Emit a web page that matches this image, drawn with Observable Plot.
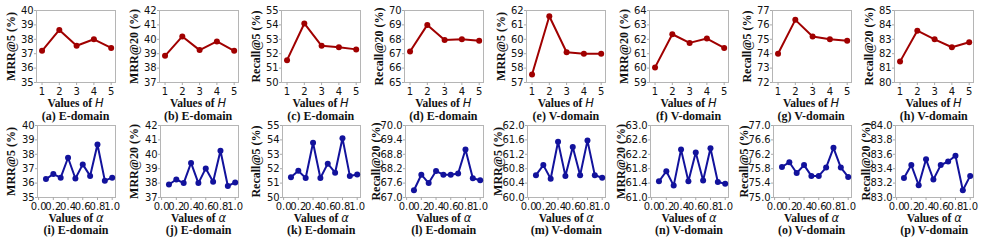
<!DOCTYPE html>
<html>
<head>
<meta charset="utf-8">
<script src="https://cdn.jsdelivr.net/npm/d3@7"></script>
<script src="https://cdn.jsdelivr.net/npm/@observablehq/plot@0.6"></script>
<style>
  html, body { margin: 0; padding: 0; background: #fff; }
  #wrap { position: relative; width: 981px; height: 243px; overflow: hidden; }
  .panel { position: absolute; }
  .lbl { position: absolute; width: 130px; text-align: center; font-family: "Liberation Serif", serif; font-weight: bold; color: #111; white-space: nowrap; line-height: 14px; }
  .lbl i { font-family: "DejaVu Sans", sans-serif; font-weight: normal; font-style: oblique; }
</style>
</head>
<body>
<div id="wrap"></div>
<script>
// ---- data ----
const H = [1, 2, 3, 4, 5];
const alpha = [0.1, 0.2, 0.3, 0.4, 0.5, 0.6, 0.7, 0.8, 0.9, 1.0];

const hMRR5E    = [37.2, 38.65, 37.55, 38.0, 37.4];
const hMRR20E   = [38.85, 40.2, 39.25, 39.85, 39.2];
const hRecall5E = [51.55, 54.1, 52.55, 52.45, 52.3];
const hRecall20E= [67.15, 69.0, 67.95, 68.0, 67.9];
const hMRR5V    = [57.55, 61.6, 59.1, 59.0, 59.0];
const hMRR20V   = [60.05, 62.35, 61.75, 62.05, 61.4];
const hRecall5V = [74.0, 76.35, 75.2, 75.0, 74.9];
const hRecall20V= [81.45, 83.6, 83.0, 82.45, 82.8];

const aMRR5E    = [36.28, 36.63, 36.38, 37.76, 36.32, 37.3, 36.5, 38.68, 36.17, 36.38];
const aMRR20E   = [37.9, 38.25, 38.0, 39.4, 38.0, 39.02, 38.1, 40.25, 37.8, 38.05];
const aRecall5E = [51.4, 51.85, 51.35, 53.8, 51.35, 52.35, 51.72, 54.12, 51.5, 51.6];
const aRecall20E= [67.3, 67.95, 67.6, 68.1, 67.95, 67.95, 68.0, 69.0, 67.8, 67.72];
const aMRR5V    = [60.62, 60.9, 60.52, 61.55, 60.6, 61.4, 60.62, 61.58, 60.62, 60.55];
const aMRR20V   = [61.45, 61.73, 61.33, 62.33, 61.45, 62.25, 61.47, 62.37, 61.43, 61.38];
const aRecall5V = [75.85, 75.98, 75.68, 75.9, 75.6, 75.6, 75.83, 76.38, 75.83, 75.57];
const aRecall20V= [83.27, 83.45, 83.17, 83.53, 83.25, 83.45, 83.5, 83.58, 83.1, 83.3];

const yLabels = ["MRR@5 (%)", "MRR@20 (%)", "Recall@5 (%)", "Recall@20 (%)",
                 "MRR@5 (%)", "MRR@20 (%)", "Recall@5 (%)", "Recall@20 (%)"];
const captionsTop = ["(a) E-domain", "(b) E-domain", "(c) E-domain", "(d) E-domain",
                     "(e) V-domain", "(f) V-domain", "(g) V-domain", "(h) V-domain"];
const captionsBottom = ["(i) E-domain", "(j) E-domain", "(k) E-domain", "(l) E-domain",
                        "(m) V-domain", "(n) V-domain", "(o) V-domain", "(p) V-domain"];

const xTicksH = [1, 2, 3, 4, 5];
const xTicksAlpha = [0.0, 0.2, 0.4, 0.6, 0.8, 1.0];

const yTicksTop = [
  [35, 36, 37, 38, 39, 40], [37, 38, 39, 40, 41, 42], [50, 51, 52, 53, 54, 55], [65, 66, 67, 68, 69, 70],
  [57, 58, 59, 60, 61, 62], [59, 60, 61, 62, 63, 64], [72, 73, 74, 75, 76, 77], [80, 81, 82, 83, 84, 85]
];
const yTicksBottom = [
  [35, 36, 37, 38, 39, 40], [37, 38, 39, 40, 41, 42], [50, 51, 52, 53, 54, 55],
  [67.0, 67.6, 68.2, 68.8, 69.4, 70.0],
  [60.0, 60.4, 60.8, 61.2, 61.6, 62.0], [61.0, 61.4, 61.8, 62.2, 62.6, 63.0],
  [75.0, 75.4, 75.8, 76.2, 76.6, 77.0], [83.0, 83.2, 83.4, 83.6, 83.8, 84.0]
];
const yFormatsBottom = ["d", "d", "d", ".1f", ".1f", ".1f", ".1f", ".1f"];

const topSeries = [hMRR5E, hMRR20E, hRecall5E, hRecall20E, hMRR5V, hMRR20V, hRecall5V, hRecall20V];
const bottomSeries = [aMRR5E, aMRR20E, aRecall5E, aRecall20E, aMRR5V, aMRR20V, aRecall5V, aRecall20V];

// ---- drawing ----
const RED = "#a00000";
const BLUE = "#12129c";
const PITCH = 122.6;
const wrap = document.getElementById("wrap");

function panel({xs, ys, xDomain, xTicks, xFmt, yTicks, yFmt, color, ylabel, mLeft, labelDx}) {
  const data = xs.map((x, i) => ({x, y: ys[i]}));
  return Plot.plot({
    width: 123, height: 96,
    marginTop: 10, marginBottom: 14, marginLeft: mLeft, marginRight: 8,
    x: {domain: xDomain},
    y: {domain: [yTicks[0], yTicks[yTicks.length - 1]]},
    style: {fontFamily: "DejaVu Sans", fontSize: "10px", background: "transparent", color: "#111", overflow: "visible"},
    marks: [
      Plot.frame({stroke: "#b5b5b5"}),
      Plot.axisX(xTicks, {tickSize: 3, tickPadding: 2.5, tickFormat: d3.format(xFmt), stroke: "#aaa", fill: "#111", label: null}),
      Plot.axisY(yTicks, {tickSize: 2, tickPadding: 0.8, tickFormat: d3.format(yFmt), stroke: "#aaa", fill: "#111", label: null}),
      Plot.line(data, {x: "x", y: "y", stroke: color, strokeWidth: 2}),
      Plot.dot(data, {x: "x", y: "y", r: 3, fill: color, stroke: "none"}),
      Plot.text([ylabel], {text: d => d, frameAnchor: "left", textAnchor: "middle", dx: labelDx, rotate: -90,
        fontFamily: "Liberation Serif", fontWeight: "bold", fontSize: 12, fill: "#111"})
    ]
  });
}

function addLabel(html, cx, cy, size) {
  const d = document.createElement("div");
  d.className = "lbl";
  d.innerHTML = html;
  d.style.left = (cx - 65) + "px";
  d.style.top = (cy - 7) + "px";
  d.style.fontSize = size + "px";
  wrap.appendChild(d);
}

for (let i = 0; i < 8; i++) {
  const left = i * PITCH;
  const top = panel({xs: H, ys: topSeries[i], xDomain: [0.68, 5.25], xTicks: xTicksH, xFmt: "d",
    yTicks: yTicksTop[i], yFmt: "d", color: RED, ylabel: yLabels[i], mLeft: 36, labelDx: -25.5});
  top.classList.add("panel");
  top.style.left = left + "px";
  top.style.top = "0px";
  wrap.appendChild(top);

  const wide = yFormatsBottom[i] !== "d";
  const bot = panel({xs: alpha, ys: bottomSeries[i], xDomain: [-0.015, 1.045], xTicks: xTicksAlpha, xFmt: ".1f",
    yTicks: yTicksBottom[i], yFmt: yFormatsBottom[i], color: BLUE, ylabel: yLabels[i], mLeft: 37,
    labelDx: wide ? -29.5 : -26.5});
  bot.classList.add("panel");
  bot.style.left = left + "px";
  bot.style.top = "115px";
  wrap.appendChild(bot);

  const cx = left + 75.5;
  addLabel('Values of <i>H</i>', cx, 103, 11.5);
  addLabel(captionsTop[i], cx, 116, 12);
  addLabel('Values of <i>α</i>', cx + 0.5, 217.5, 11.5);
  addLabel(captionsBottom[i], cx + 0.5, 230, 12);
}
</script>
</body>
</html>
